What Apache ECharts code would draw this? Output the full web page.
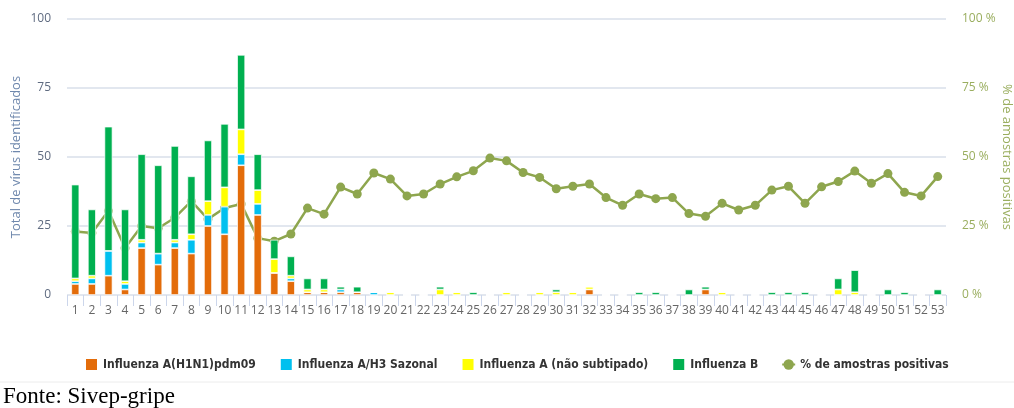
<!DOCTYPE html>
<html lang="pt-BR">
<head>
    <meta charset="UTF-8">
    <title>Vírus influenza identificados por semana</title>
    <script src="https://cdn.jsdelivr.net/npm/echarts@6.0.0/dist/echarts.min.js"></script>
    <style>
        html, body { margin: 0; padding: 0; background: #fff; }
        #container { width: 1014px; height: 408px; }
    </style>
</head>
<body>
    <div id="container"></div>
    <script type="text/javascript">
        // semanas epidemiologicas 1..53
        var semanas = [];
        for (var i = 1; i <= 53; i++) semanas.push(String(i));

        var h1n1 = [4, 4, 7, 2, 17, 11, 17, 15, 25, 22, 47, 29, 8, 5, 1, 1, 1, 1, 0, 0,
            0, 0, 0, 0, 0, 0, 0, 0, 0, 0, 0, 2, 0, 0, 0, 0, 0, 0, 2, 0,
            0, 0, 0, 0, 0, 0, 0, 0, 0, 0, 0, 0, 0];
        var h3 = [1, 2, 9, 2, 2, 4, 2, 5, 4, 10, 4, 4, 0, 1, 0, 0, 1, 0, 1, 0,
            0, 0, 0, 0, 0, 0, 0, 0, 0, 0, 0, 0, 0, 0, 0, 0, 0, 0, 0, 0,
            0, 0, 0, 0, 0, 0, 0, 0, 0, 0, 0, 0, 0];
        var naoSubtipado = [1, 1, 0, 1, 1, 0, 1, 2, 5, 7, 9, 5, 5, 1, 1, 1, 0, 0, 0, 1,
            0, 0, 2, 1, 0, 0, 1, 0, 1, 1, 1, 1, 0, 0, 0, 0, 0, 0, 0, 1,
            0, 0, 0, 0, 0, 0, 2, 1, 0, 0, 0, 0, 0];
        var influB = [34, 24, 45, 26, 31, 32, 34, 21, 22, 23, 27, 13, 7, 7, 4, 4, 1, 2, 0, 0,
            0, 0, 1, 0, 1, 0, 0, 0, 0, 1, 0, 0, 0, 0, 1, 1, 0, 2, 1, 0,
            0, 0, 1, 1, 1, 0, 4, 8, 0, 2, 1, 0, 2];
        var pctPositivas = [23, 22.5, 30.5, 17, 25, 24.2, 28, 34, 27.5, 31.5, 33, 20.6, 19.5, 22.1, 31.5, 29.3, 39.1, 36.6, 44.2, 42,
            35.9, 36.6, 40.2, 42.8, 45, 49.6, 48.6, 44.4, 42.6, 38.5, 39.4, 40.2, 35.3, 32.5, 36.6, 34.9, 35.3, 29.5, 28.5, 33.2,
            30.8, 32.5, 38, 39.4, 33.2, 39.2, 41.1, 44.9, 40.5, 44, 37.2, 35.9, 42.9];

        var corLinha = '#8ea64e';
        var fonteEixo = 'Open Sans';

        function barra(nome, dados, cor) {
            return {
                name: nome,
                type: 'bar',
                stack: 'virus',
                barWidth: 8,
                z: 3,
                itemStyle: { color: cor, borderColor: '#ffffff', borderWidth: 0.7 },
                data: dados
            };
        }

        var myChart = echarts.init(document.getElementById('container'));
        var option = {
            animation: false,
            backgroundColor: '#ffffff',
            grid: { left: 67, right: 68, top: 19, bottom: 113, outerBoundsMode: 'none', containLabel: false },
            legend: {
                left: 79,
                top: 352,
                itemWidth: 13,
                itemHeight: 13,
                itemGap: 23,
                textStyle: { fontFamily: 'DejaVu Sans Condensed', fontWeight: 'bold', fontSize: 12, color: '#333' },
                data: [
                    { name: 'Influenza A(H1N1)pdm09', icon: 'rect' },
                    { name: 'Influenza A/H3 Sazonal', icon: 'rect' },
                    { name: 'Influenza A (não subtipado)', icon: 'rect' },
                    { name: 'Influenza B', icon: 'rect' },
                    '% de amostras positivas'
                ]
            },
            xAxis: {
                type: 'category',
                data: semanas,
                boundaryGap: true,
                axisLine: { show: false },
                axisTick: { show: true, interval: 0, length: 11, lineStyle: { color: '#ccd6eb' } },
                axisLabel: { interval: 0, color: '#666', fontSize: 12, fontFamily: fonteEixo, margin: 10 }
            },
            yAxis: [{
                type: 'value',
                min: 0, max: 100, interval: 25,
                name: 'Total de vírus identificados',
                nameLocation: 'middle',
                nameGap: 44,
                nameMoveOverlap: false,
                nameTextStyle: { color: '#6f88ad', fontSize: 13, fontFamily: fonteEixo },
                axisLabel: { color: '#5f6b80', fontSize: 12, fontFamily: fonteEixo, margin: 16 },
                splitLine: { lineStyle: { color: '#d8dfea', width: 1.5 } }
            }, {
                type: 'value',
                min: 0, max: 100, interval: 25,
                position: 'right',
                name: '% de amostras positivas',
                nameLocation: 'middle',
                nameRotate: -90,
                nameGap: 54,
                nameMoveOverlap: false,
                nameTextStyle: { color: '#9aae5f', fontSize: 13, fontFamily: fonteEixo },
                axisLabel: { color: '#9aae5f', fontSize: 12, fontFamily: fonteEixo, margin: 16, formatter: '{value} %' },
                splitLine: { show: false }
            }],
            series: [
                barra('Influenza A(H1N1)pdm09', h1n1, '#e36c0a'),
                barra('Influenza A/H3 Sazonal', h3, '#00c0ef'),
                barra('Influenza A (não subtipado)', naoSubtipado, '#ffff00'),
                barra('Influenza B', influB, '#00b050'),
                {
                    name: '% de amostras positivas',
                    type: 'line',
                    yAxisIndex: 1,
                    z: 1,
                    symbol: 'circle',
                    symbolSize: 9,
                    itemStyle: { color: corLinha },
                    lineStyle: { color: corLinha, width: 2.5 },
                    data: pctPositivas
                }
            ],
            graphic: [{
                type: 'line',
                shape: { x1: 0, y1: 382, x2: 1014, y2: 382 },
                style: { stroke: '#ececec', lineWidth: 1 }
            }, {
                type: 'text',
                left: 3,
                top: 385,
                style: { text: 'Fonte: Sivep-gripe', font: '23px "Liberation Serif"', fill: '#000' }
            }]
        };
        myChart.setOption(option);
    </script>
</body>
</html>
